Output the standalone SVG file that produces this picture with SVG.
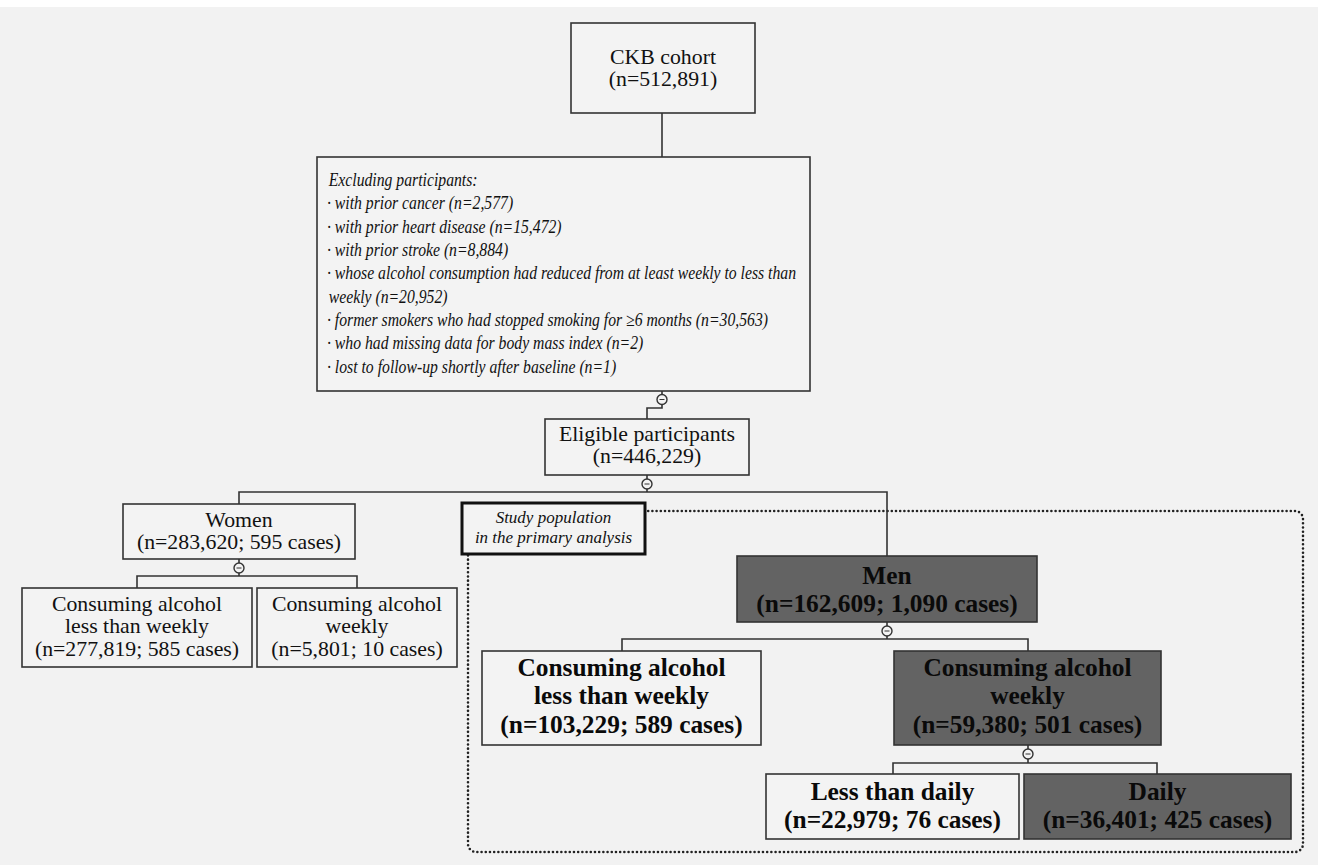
<svg xmlns="http://www.w3.org/2000/svg" width="1318" height="865" viewBox="0 0 1318 865">
<style>
.box{fill:#f3f3f3;stroke:#333;stroke-width:1.6}
.dark{fill:#636363;stroke:#333;stroke-width:1.6}
.study{fill:#f3f3f3;stroke:#111;stroke-width:3}
.con{fill:none;stroke:#333;stroke-width:1.6}
.circ{fill:#f3f3f3;stroke:#333;stroke-width:1.4}
.dot{fill:none;stroke:#222;stroke-width:2.6;stroke-dasharray:0 4.2;stroke-linecap:round}
.r{font-family:"Liberation Serif","Times New Roman",serif;font-size:21.8px;fill:#111;text-anchor:middle}
.b{font-family:"Liberation Serif","Times New Roman",serif;font-size:25.4px;font-weight:bold;fill:#0a0a0a;text-anchor:middle}
.i{font-family:"Liberation Serif","Times New Roman",serif;font-size:18.3px;font-style:italic;fill:#111}
.si{font-family:"Liberation Serif","Times New Roman",serif;font-size:17px;font-style:italic;fill:#111;text-anchor:middle}
</style>
<defs>
<g id="minus"><circle r="5" class="circ"/><line x1="-2.5" y1="0" x2="2.5" y2="0" stroke="#333" stroke-width="1"/></g>
</defs>
<rect width="1318" height="865" fill="#ffffff"/>
<rect x="0" y="7" width="1318" height="858" fill="#f2f2f2"/>

<rect x="468" y="511" width="835" height="341" rx="8" class="dot"/>

<g id="connectors">
<line x1="662" y1="113" x2="662" y2="157" class="con"/>
<line x1="662" y1="391" x2="662" y2="394.5" class="con"/>
<polyline points="662,404.5 662,408 647,408 647,419" class="con"/>
<use href="#minus" x="662" y="399.5"/>
<line x1="647" y1="475" x2="647" y2="479" class="con"/>
<polyline points="239,504 239,492 887,492 887,556" class="con"/>
<line x1="647" y1="489" x2="647" y2="492" class="con"/>
<use href="#minus" x="647" y="484"/>
<line x1="239" y1="559" x2="239" y2="563" class="con"/>
<polyline points="137,588 137,576 357,576 357,588" class="con"/>
<line x1="239" y1="573" x2="239" y2="576" class="con"/>
<use href="#minus" x="239" y="568"/>
<line x1="887" y1="622" x2="887" y2="626" class="con"/>
<polyline points="622,651 622,639 1028,639 1028,651" class="con"/>
<line x1="887" y1="636" x2="887" y2="639" class="con"/>
<use href="#minus" x="887" y="631"/>
<line x1="1028" y1="745" x2="1028" y2="749" class="con"/>
<polyline points="893,774 893,763 1157,763 1157,774" class="con"/>
<line x1="1028" y1="759" x2="1028" y2="763" class="con"/>
<use href="#minus" x="1028" y="754"/>
</g>

<g id="ckb">
<rect x="571" y="23" width="184" height="90" class="box"/>
<text x="663" y="64" class="r">CKB cohort</text>
<text x="663" y="86" class="r">(n=512,891)</text>
</g>

<g id="exclusion">
<rect x="317" y="157" width="493" height="234" class="box"/>
<g transform="translate(327,0) scale(0.86,1)">
<text class="i" x="2" y="186">Excluding participants:</text>
<text class="i" x="0" y="209.5">· with prior cancer (n=2,577)</text>
<text class="i" x="0" y="233">· with prior heart disease (n=15,472)</text>
<text class="i" x="0" y="256">· with prior stroke (n=8,884)</text>
<text class="i" x="0" y="279.5">· whose alcohol consumption had reduced from at least weekly to less than</text>
<text class="i" x="2" y="303">weekly (n=20,952)</text>
<text class="i" x="0" y="326">· former smokers who had stopped smoking for ≥6 months (n=30,563)</text>
<text class="i" x="0" y="349.5">· who had missing data for body mass index (n=2)</text>
<text class="i" x="0" y="373">· lost to follow-up shortly after baseline (n=1)</text>
</g>
</g>

<g id="eligible">
<rect x="545" y="419" width="204" height="56" class="box"/>
<text x="647" y="441" class="r">Eligible participants</text>
<text x="647" y="463" class="r">(n=446,229)</text>
</g>

<g id="women">
<rect x="123" y="504" width="232" height="55" class="box"/>
<text x="239" y="527" class="r">Women</text>
<text x="239" y="549" class="r">(n=283,620; 595 cases)</text>
</g>

<g id="women-less">
<rect x="22" y="588" width="230" height="79" class="box"/>
<text x="137" y="611" class="r">Consuming alcohol</text>
<text x="137" y="633" class="r">less than weekly</text>
<text x="137" y="656" class="r">(n=277,819; 585 cases)</text>
</g>

<g id="women-weekly">
<rect x="257" y="588" width="200" height="79" class="box"/>
<text x="357" y="611" class="r">Consuming alcohol</text>
<text x="357" y="633" class="r">weekly</text>
<text x="357" y="656" class="r">(n=5,801; 10 cases)</text>
</g>

<g id="study">
<rect x="462" y="503" width="183" height="51" class="study"/>
<text x="553.5" y="523" class="si">Study population</text>
<text x="553.5" y="543" class="si">in the primary analysis</text>
</g>

<g id="men">
<rect x="737" y="556" width="300" height="66" class="dark"/>
<text x="887" y="584" class="b">Men</text>
<text x="887" y="612" class="b">(n=162,609; 1,090 cases)</text>
</g>

<g id="men-less">
<rect x="482" y="651" width="279" height="94" class="box"/>
<text x="621.5" y="676" class="b">Consuming alcohol</text>
<text x="621.5" y="704" class="b">less than weekly</text>
<text x="621.5" y="733" class="b">(n=103,229; 589 cases)</text>
</g>

<g id="men-weekly">
<rect x="894" y="651" width="267" height="94" class="dark"/>
<text x="1027.5" y="676" class="b">Consuming alcohol</text>
<text x="1027.5" y="704" class="b">weekly</text>
<text x="1027.5" y="733" class="b">(n=59,380; 501 cases)</text>
</g>

<g id="less-daily">
<rect x="766" y="774" width="253" height="65" class="box"/>
<text x="892.5" y="800" class="b">Less than daily</text>
<text x="892.5" y="828" class="b">(n=22,979; 76 cases)</text>
</g>

<g id="daily">
<rect x="1024" y="774" width="267" height="65" class="dark"/>
<text x="1157.5" y="800" class="b">Daily</text>
<text x="1157.5" y="828" class="b">(n=36,401; 425 cases)</text>
</g>
</svg>
